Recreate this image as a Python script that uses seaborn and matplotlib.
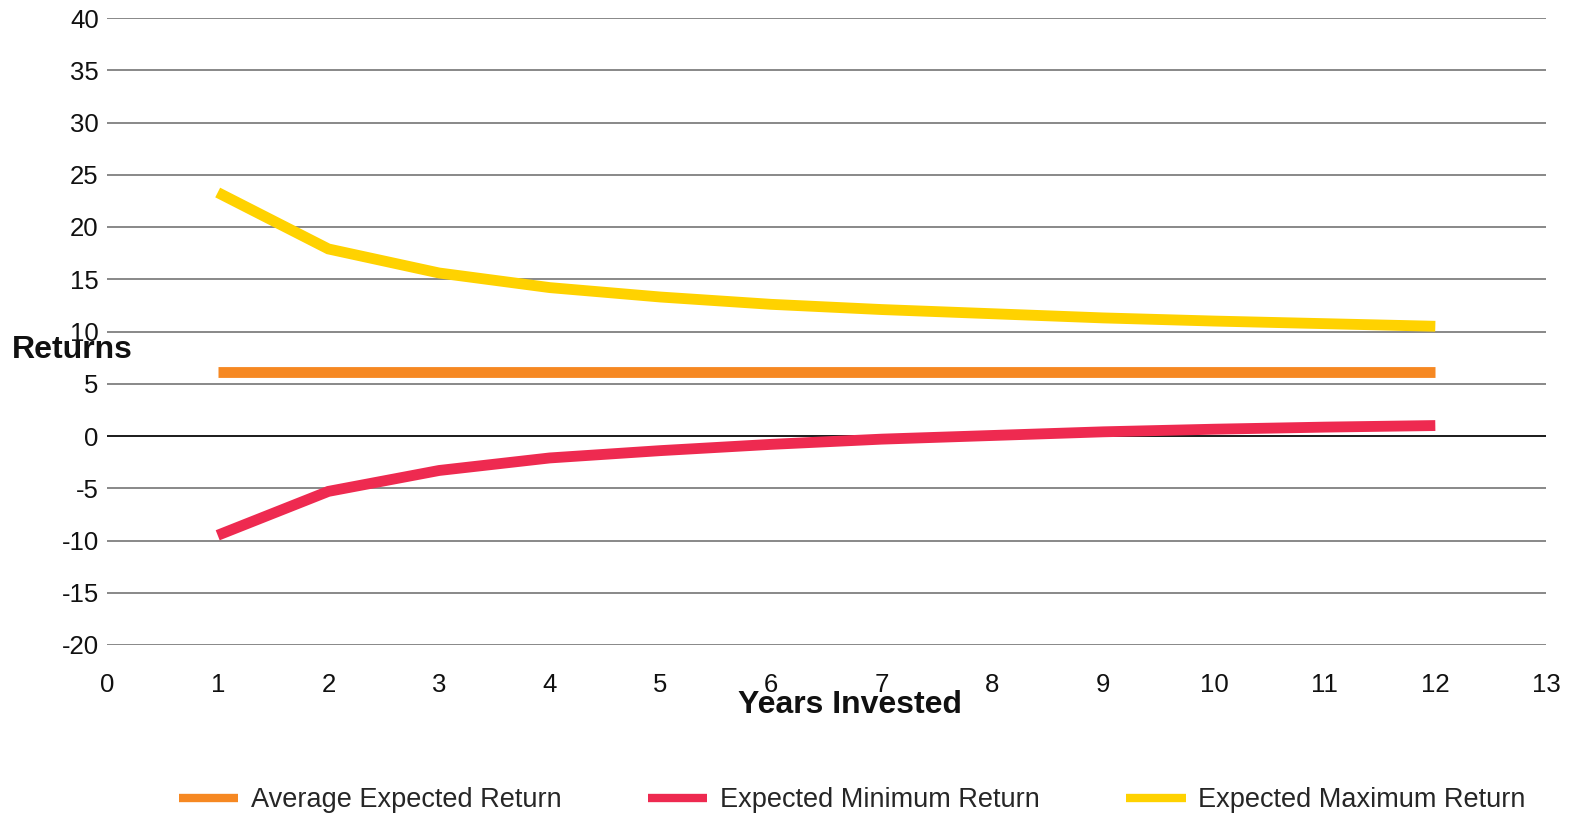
import matplotlib
matplotlib.use("Agg")
import matplotlib.pyplot as plt
from matplotlib.lines import Line2D
import seaborn as sns
import pandas as pd

# Years invested and the projected annual returns (%)
years = [1, 2, 3, 4, 5, 6, 7, 8, 9, 10, 11, 12]
average_return = [6.1] * 12
minimum_return = [-9.5, -5.3, -3.3, -2.1, -1.4, -0.8, -0.3, 0.05, 0.4, 0.65, 0.85, 1.0]
maximum_return = [23.3, 17.9, 15.6, 14.2, 13.3, 12.6, 12.1, 11.7, 11.3, 11.0, 10.75, 10.5]

series_names = ["Average Expected Return", "Expected Minimum Return", "Expected Maximum Return"]
series_colors = ["#F68822", "#EE2A50", "#FFD200"]

y_ticks = list(range(-20, 45, 5))
x_ticks = list(range(0, 14))

df = pd.DataFrame({
    "Years": years * 3,
    "Return": average_return + minimum_return + maximum_return,
    "Series": [series_names[0]] * 12 + [series_names[1]] * 12 + [series_names[2]] * 12,
})

sns.set_theme(style="white")
plt.rcParams["font.family"] = ["Liberation Sans", "DejaVu Sans"]
plt.rcParams["axes.unicode_minus"] = False

fig = plt.figure(figsize=(15.75, 8.15), dpi=100)
ax = fig.add_axes([107 / 1575, 1 - 645 / 815, (1546 - 107) / 1575, (645 - 18) / 815])

# horizontal grid
for yv in y_ticks:
    ax.axhline(yv, color="#1a1a1a" if yv == 0 else "#888888",
               lw=1.4, zorder=1)

sns.lineplot(data=df, x="Years", y="Return", hue="Series",
             hue_order=series_names, palette=series_colors,
             linewidth=7.8, legend=False, ax=ax, zorder=3,
             solid_capstyle="butt", solid_joinstyle="miter")

ax.set_xlim(0, 13)
ax.set_ylim(-20, 40)
ax.set_xticks(x_ticks)
ax.set_yticks(y_ticks)
ax.tick_params(axis="x", length=0, pad=20, labelsize=18.5, labelcolor="#111111")
ax.tick_params(axis="y", length=0, pad=6, labelsize=18.5, labelcolor="#111111")
ax.set_xlabel("")
ax.set_ylabel("")
for s in ax.spines.values():
    s.set_visible(False)

fig.text(12 / 1575, 1 - 350 / 815, "Returns", ha="left", va="center",
         fontsize=23, fontweight="bold", color="#111111")
fig.text(850 / 1575, 1 - 705 / 815, "Years Invested", ha="center", va="center",
         fontsize=23, fontweight="bold", color="#111111")

handles = [Line2D([0], [0], color=c, lw=6, solid_capstyle="butt") for c in series_colors]
fig.legend(handles, series_names, loc="center", bbox_to_anchor=(852 / 1575, 1 - 800 / 815),
           ncol=3, frameon=False, fontsize=19.5, handlelength=2.2, handletextpad=0.45,
           columnspacing=3.2)

fig.savefig("out.png", dpi=100)
